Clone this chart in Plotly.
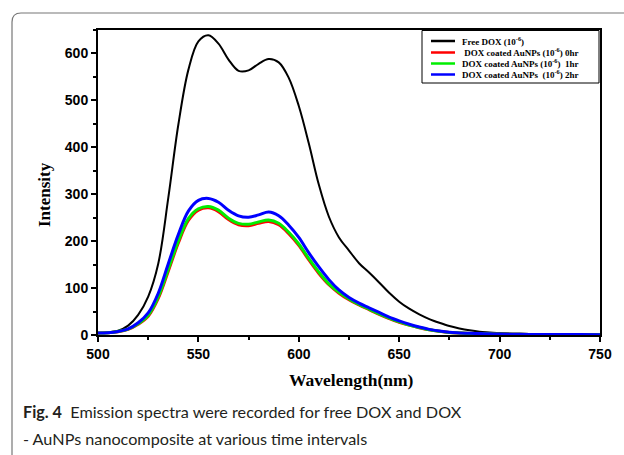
import plotly.graph_objects as go

wavelength = [500, 505, 510, 515, 520, 525, 530, 535, 540, 545, 550, 555, 560, 565, 570,
              575, 580, 585, 590, 595, 600, 605, 610, 615, 620, 625, 630, 635, 640, 645,
              650, 655, 660, 665, 670, 675, 680, 685, 690, 695, 700, 710, 720, 730, 740, 750]

free_dox = [4.5, 5.5, 9, 20, 43, 82, 152, 292, 448, 565, 626, 639, 621, 587, 563,
            564, 578, 588, 581, 548, 488, 408, 320, 252, 208, 180, 153, 133, 112, 90,
            71, 56, 44, 34, 26, 19, 14, 10, 7, 5.5, 4, 2.5, 1.5, 1, 0.8, 0.5]

auNP_0hr = [4.5, 4.8, 7, 12, 23, 40, 78, 136, 196, 244, 266, 271, 263, 246, 235,
            233, 238, 242, 235, 216, 191, 160, 131, 107, 89, 75, 64, 54, 44, 35,
            27, 21, 15.5, 11, 7.8, 5.4, 4.2, 3.2, 2.7, 2.3, 2, 1.5, 1, 0.9, 0.7, 0.5]

auNP_1hr = [4.5, 5, 7.5, 12.5, 24, 42, 81, 140, 200, 248, 269, 274, 266, 249, 238,
            236, 241, 245, 238, 219, 194, 163, 134, 109, 91, 77, 65, 55, 45, 36,
            28, 21, 16, 11, 8, 5.5, 4.3, 3.3, 2.8, 2.4, 2, 1.5, 1, 0.9, 0.7, 0.5]

auNP_2hr = [4.5, 5, 7.5, 13, 26, 47, 89, 152, 214, 264, 287, 291, 283, 266, 254,
            251, 256, 262, 254, 234, 208, 175, 145, 118, 96, 80, 68, 58, 48, 38,
            30, 23, 17, 12, 8.5, 5.8, 4.5, 3.5, 3, 2.5, 2, 1.5, 1, 1, 0.8, 0.5]

series_names = ["Free DOX (10<sup>-6</sup>)",
                " DOX coated AuNPs (10<sup>-6</sup>) 0hr",
                "DOX coated AuNPs (10<sup>-6</sup>)  1hr",
                "DOX coated AuNPs  (10<sup>-6</sup>) 2hr"]
series_values = [free_dox, auNP_0hr, auNP_1hr, auNP_2hr]
series_colors = ["#000000", "#ff0000", "#00ee00", "#0000ff"]
series_widths = [2, 3, 3, 3]

x_ticks = [500, 550, 600, 650, 700, 750]
y_ticks = [0, 100, 200, 300, 400, 500, 600]

# pixel layout helpers
L, R, T, B = 98, 24, 30, 120
W, H = 624, 455
PW, PH = W - L - R, H - T - B


def px(x):
    return (x - L) / PW


def py(y):
    return (H - B - y) / PH


fig = go.Figure()
for name, vals, col, lw in zip(series_names, series_values, series_colors, series_widths):
    fig.add_trace(go.Scatter(x=wavelength, y=vals, mode="lines", name=name,
                             line=dict(color=col, width=lw, shape="spline", smoothing=1.0),
                             showlegend=False))

shapes = []
annotations = []

# outer rounded frame (top-left corner visible)
shapes.append(dict(type="path", xref="paper", yref="paper",
                   path=f"M {px(12)} {py(470)} L {px(12)} {py(22)} Q {px(12)} {py(13)} {px(21)} {py(13)} L {px(640)} {py(13)}",
                   line=dict(color="#777777", width=1.2)))

# legend box
shapes.append(dict(type="rect", xref="paper", yref="paper",
                   x0=px(422), x1=px(599), y0=py(83), y1=py(30.5),
                   line=dict(color="#000000", width=1), fillcolor="white", layer="above"))
row_y = [41, 52.5, 63.5, 74.5]
text_x = [460, 460, 460, 460]
for name, col, ry, tx in zip(series_names, series_colors, row_y, text_x):
    shapes.append(dict(type="line", xref="paper", yref="paper",
                       x0=px(431), x1=px(455), y0=py(ry), y1=py(ry),
                       line=dict(color=col, width=2.5), layer="above"))
    annotations.append(dict(xref="paper", yref="paper", x=px(tx), y=py(ry),
                            xanchor="left", yanchor="middle", showarrow=False,
                            text=f"<b>{name}</b>",
                            font=dict(family="Liberation Serif, Times New Roman, serif", size=9, color="black")))

# axis titles
annotations.append(dict(xref="paper", yref="paper", x=px(351), y=py(380),
                        xanchor="center", yanchor="middle", showarrow=False,
                        text="<b>Wavelength(nm)</b>",
                        font=dict(family="Liberation Serif, Times New Roman, serif", size=17.5, color="black")))
annotations.append(dict(xref="paper", yref="paper", x=px(45), y=py(195),
                        xanchor="center", yanchor="middle", showarrow=False, textangle=-90,
                        text="<b>Intensity</b>",
                        font=dict(family="Liberation Serif, Times New Roman, serif", size=17, color="black")))

# caption
cap_font = dict(family="Lato, sans-serif", size=16.2, color="#231f20")
annotations.append(dict(xref="paper", yref="paper", x=px(21), y=py(411),
                        xanchor="left", yanchor="middle", showarrow=False,
                        text="<b>Fig. 4</b>  Emission spectra were recorded for free DOX and DOX",
                        font=cap_font))
annotations.append(dict(xref="paper", yref="paper", x=px(21), y=py(438),
                        xanchor="left", yanchor="middle", showarrow=False,
                        text="- AuNPs nanocomposite at various time intervals",
                        font=cap_font))

tickfont = dict(family="Liberation Sans, Arial, sans-serif", size=14, color="black", weight="bold")

fig.update_layout(
    width=W, height=H,
    margin=dict(l=L, r=R, t=T, b=B),
    paper_bgcolor="white", plot_bgcolor="white",
    shapes=shapes, annotations=annotations,
    showlegend=False,
    xaxis=dict(range=[500, 750], tickvals=x_ticks, ticktext=[str(v) for v in x_ticks],
               ticks="outside", ticklen=5, tickwidth=2, tickcolor="black",
               minor=dict(dtick=25, tick0=500, ticks="outside", ticklen=3, tickwidth=2, tickcolor="black"),
               showline=True, linewidth=2, linecolor="black", mirror=True,
               showgrid=False, zeroline=False, tickfont=tickfont),
    yaxis=dict(range=[0, 650], tickvals=y_ticks, ticktext=[str(v) for v in y_ticks],
               ticks="outside", ticklen=5, tickwidth=2, tickcolor="black",
               minor=dict(dtick=50, tick0=0, ticks="outside", ticklen=3, tickwidth=2, tickcolor="black"),
               showline=True, linewidth=2, linecolor="black", mirror=True,
               showgrid=False, zeroline=False, tickfont=tickfont),
)

fig.write_html("out.html")
